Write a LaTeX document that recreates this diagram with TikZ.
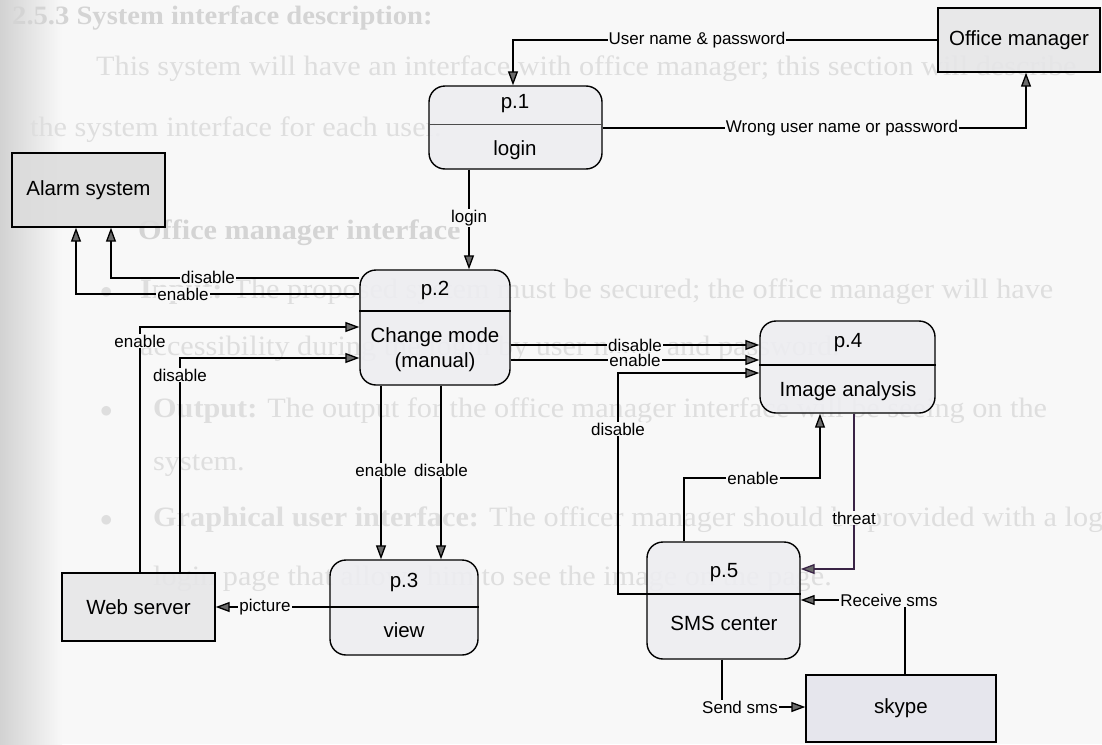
\documentclass[tikz,border=0pt]{standalone}
\usepackage{fontspec}
\setmainfont{Liberation Sans}
\newfontfamily\pagefont[FakeStretch=1.08]{Liberation Serif}
\usetikzlibrary{arrows.meta}
\definecolor{paper}{HTML}{F8F8F8}
\definecolor{edge}{HTML}{D2D2D2}
\definecolor{ghost}{HTML}{DEDEDE}
\definecolor{ghosthead}{HTML}{D4D4D4}
\definecolor{procfill}{HTML}{EDEDF1}
\definecolor{extfill}{HTML}{E6E6E8}
\definecolor{alarmfill}{HTML}{DCDCDC}
\definecolor{skypefill}{HTML}{E4E4EC}
\definecolor{tipfill}{HTML}{6A6A6A}
\definecolor{threatline}{HTML}{3A2446}
\begin{document}
\begin{tikzpicture}[x=1pt,y=-1pt,
  flow/.style={draw=black, line width=1.3pt,
    -{Triangle[length=14pt,width=10pt,fill=tipfill]}},
  tag/.style={fill=paper, inner sep=1pt, font=\fontsize{17}{17}\selectfont},
  extbox/.style={draw=black, line width=1.4pt, fill=extfill, fill opacity=0.88,
    text opacity=1, inner sep=0pt, font=\fontsize{20.5}{20.5}\selectfont},
  procbox/.style={draw=black, line width=1.4pt, fill=procfill, fill opacity=0.88,
    rounded corners=16pt, inner sep=0pt},
  proctext/.style={inner sep=0pt, font=\fontsize{20.5}{20.5}\selectfont},
  divider/.style={draw=black, line width=1.3pt},
  pagebody/.style={anchor=base west, inner sep=0pt, text=ghost,
    font=\pagefont\fontsize{28}{28}\selectfont},
  pagehead/.style={anchor=base west, inner sep=0pt, text=ghosthead,
    font=\pagefont\bfseries\fontsize{28}{28}\selectfont}]

\useasboundingbox (0,0) rectangle (1102,744);
\fill[paper] (0,0) rectangle (1102,744);
\shade[left color=edge, right color=paper] (0,0) rectangle (62,744);

% faint printed page text underneath the chart
\node[pagehead, font=\pagefont\bfseries\fontsize{26.5}{26.5}\selectfont] (t0) at (12,24) {2.5.3 System interface description:};
\node[pagebody] (t1) at (96,75) {This system will have an interface with office manager; this section will describe};
\node[pagebody] (t2) at (30,136) {the system interface for each user.};
\node[pagehead] (t3) at (138,239) {Office manager interface};
\node[pagebody] (b1) at (100,298) {$\bullet$};
\node[pagebody] (t4) at (140,298) {\textbf{Input:} The proposed system must be secured; the office manager will have};
\node[pagebody] (t5) at (140,355) {accessibility during the login by user name and password.};
\node[pagebody] (b2) at (100,417) {$\bullet$};
\node[pagebody] (t6) at (153,417) {\textbf{Output:} The output for the office manager interface will be seeing on the};
\node[pagebody] (t7) at (153,470) {system.};
\node[pagebody] (b3) at (100,526) {$\bullet$};
\node[pagebody] (t8) at (153,526) {\textbf{Graphical user interface:} The officer manager should be provided with a login};
\node[pagebody] (t9) at (153,585) {login page that allows him to see the image on the page.};

% external entities
\node[extbox, minimum width=162pt, minimum height=64pt] (om) at (1019,40) {Office manager};
\node[extbox, fill=alarmfill, minimum width=153pt, minimum height=74pt] (alarm) at (88.5,190) {Alarm system};
\node[extbox, minimum width=153pt, minimum height=68pt] (web) at (138.5,607) {Web server};
\node[extbox, fill=skypefill, minimum width=190pt, minimum height=67pt] (skype) at (901,708.5) {skype};

% processes
\node[procbox, minimum width=173pt, minimum height=83pt] (p1) at (515.5,127.5) {};
\draw[divider, line width=0.8pt, draw=black!70] (p1.west |- 0,124) -- (p1.east |- 0,124);
\node[proctext] (p1n) at (515,104) {p.1};
\node[proctext] (p1t) at (515,150) {login};

\node[procbox, minimum width=150pt, minimum height=115pt] (p2) at (435,327.5) {};
\draw[divider] (p2.west |- 0,311) -- (p2.east |- 0,311);
\node[proctext] (p2n) at (435,290) {p.2};
\node[proctext] (p2t) at (435,337) {Change mode};
\node[proctext] (p2u) at (435,362) {(manual)};

\node[procbox, minimum width=148pt, minimum height=95pt] (p3) at (404,607.5) {};
\draw[divider] (p3.west |- 0,607) -- (p3.east |- 0,607);
\node[proctext] (p3n) at (404,582) {p.3};
\node[proctext] (p3t) at (404,630) {view};

\node[procbox, minimum width=175pt, minimum height=92pt] (p4) at (847.5,367) {};
\draw[divider] (p4.west |- 0,365) -- (p4.east |- 0,365);
\node[proctext] (p4n) at (848,343) {p.4};
\node[proctext] (p4t) at (848,391) {Image analysis};

\node[procbox, minimum width=153pt, minimum height=117pt] (p5) at (723.5,600.5) {};
\draw[divider] (p5.west |- 0,594) -- (p5.east |- 0,594);
\node[proctext] (p5n) at (724,573) {p.5};
\node[proctext] (p5t) at (724,623) {SMS center};

% data flows
\coordinate (c1) at (513,40);
\draw[flow] (om.west |- c1) -- (c1) -- (c1 |- p1.north);
\node[tag] (l1) at (697,40) {User name \& password};

\coordinate (c2) at (1026,128);
\draw[flow] (p1.east |- c2) -- (c2) -- (c2 |- om.south);
\node[tag] (l2) at (842,128) {Wrong user name or password};

\coordinate (c3) at (469,218);
\draw[flow] (c3 |- p1.south) -- (c3 |- p2.north);
\node[tag] (l3) at (c3) {login};

\coordinate (c4) at (111,278);
\draw[flow] (p2.west |- c4) -- (c4) -- (c4 |- alarm.south);
\node[tag] (l4) at (208,277) {disable};

\coordinate (c5) at (76,294);
\draw[flow] (p2.west |- c5) -- (c5) -- (c5 |- alarm.south);
\node[tag] (l5) at (183,294) {enable};

\coordinate (c6) at (140,327);
\draw[flow] (c6 |- web.north) -- (c6) -- (p2.west |- c6);
\node[tag] (l6) at (140,341) {enable};

\coordinate (c7) at (180,358);
\draw[flow] (c7 |- web.north) -- (c7) -- (p2.west |- c7);
\node[tag] (l7) at (180,375) {disable};

\coordinate (c8) at (381,470);
\draw[flow] (c8 |- p2.south) -- (c8 |- p3.north);
\node[tag] (l8) at (c8) {enable};

\coordinate (c9) at (441,470);
\draw[flow] (c9 |- p2.south) -- (c9 |- p3.north);
\node[tag] (l9) at (c9) {disable};

\coordinate (c10) at (265,607);
\draw[flow] (p3.west |- c10) -- (web.east |- c10);
\node[tag] (l10) at (c10) {picture};

\coordinate (c12) at (635,360);
\draw[flow] (p2.east |- c12) -- (p4.west |- c12);
\node[tag] (l12) at (c12) {enable};

\coordinate (c11) at (635,345);
\draw[flow] (p2.east |- c11) -- (p4.west |- c11);
\node[tag] (l11) at (c11) {disable};

\coordinate (c13a) at (618,594);
\coordinate (c13b) at (618,373);
\draw[flow] (p5.west |- c13a) -- (c13a) -- (c13b) -- (p4.west |- c13b);
\node[tag] (l13) at (618,429) {disable};

\coordinate (c14a) at (684,478);
\coordinate (c14b) at (820,478);
\draw[flow] (c14a |- p5.north) -- (c14a) -- (c14b) -- (c14b |- p4.south);
\node[tag] (l14) at (753,478) {enable};

\coordinate (c15) at (854,569);
\draw[flow, draw=threatline] (c15 |- p4.south) -- (c15) -- (p5.east |- c15);
\node[tag] (l15) at (854,518) {threat};

\coordinate (c16) at (905,600);
\draw[flow] (c16 |- skype.north) -- (c16) -- (p5.east |- c16);
\node[tag] (l16) at (889,600) {Receive sms};

\coordinate (c17) at (722,707);
\draw[flow] (c17 |- p5.south) -- (c17) -- (skype.west |- c17);
\node[tag] (l17) at (740,707) {Send sms};
\end{tikzpicture}
\end{document}
